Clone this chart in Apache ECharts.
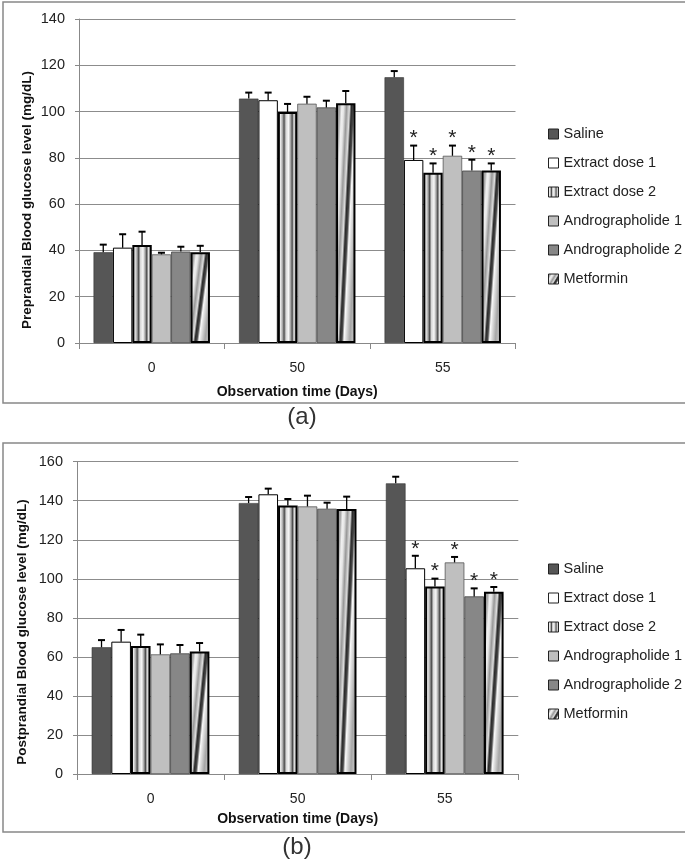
<!DOCTYPE html>
<html>
<head>
<meta charset="utf-8">
<script src="https://cdn.jsdelivr.net/npm/echarts@6/dist/echarts.min.js"></script>
<style>
html,body{margin:0;padding:0;background:#fff;}
#chart{width:685px;height:862px;}
</style>
</head>
<body>
<div id="chart"></div>
<script>
// ---------- DATA ----------
const categories = ['0', '50', '55'];
const seriesNames = ['Saline', 'Extract dose 1', 'Extract dose 2', 'Andrographolide 1', 'Andrographolide 2', 'Metformin'];

// (a) Preprandial blood glucose (mg/dL): means and upper error (SD)
const preSaline = [39.2, 105.6, 114.8];
const preSalineSD = [3.3, 2.6, 2.7];
const preExtract1 = [41.2, 104.9, 79.1];
const preExtract1SD = [5.8, 3.3, 6.2];
const preExtract2 = [42.3, 99.8, 73.6];
const preExtract2SD = [5.8, 3.5, 4.0];
const preAndro1 = [38.3, 103.4, 80.9];
const preAndro1SD = [0.7, 3.0, 4.4];
const preAndro2 = [39.5, 101.8, 74.5];
const preAndro2SD = [2.1, 2.9, 4.7];
const preMetformin = [39.2, 103.6, 74.5];
const preMetforminSD = [2.8, 5.3, 3.1];

// (b) Postprandial blood glucose (mg/dL)
const postSaline = [64.9, 138.8, 148.9];
const postSalineSD = [3.7, 3.1, 3.4];
const postExtract1 = [67.8, 143.3, 105.4];
const postExtract1SD = [6.0, 2.9, 6.4];
const postExtract2 = [65.6, 137.6, 96.0];
const postExtract2SD = [5.8, 3.3, 4.1];
const postAndro1 = [61.3, 137.1, 108.4];
const postAndro1SD = [5.1, 5.5, 2.8];
const postAndro2 = [61.8, 135.9, 91.0];
const postAndro2SD = [4.3, 3.1, 4.1];
const postMetformin = [62.7, 135.8, 93.4];
const postMetforminSD = [4.4, 6.3, 2.4];

// significance (*) marks at day 55, per series
const sigDay55 = [0, 1, 1, 1, 1, 1];

// ---------- STYLES ----------
const FONT = 'Liberation Sans';
const G = echarts.graphic;
const stripeStops = [
  {offset: 0, color: '#5a5a5a'}, {offset: 0.12, color: '#f2f2f2'}, {offset: 0.24, color: '#a8a8a8'},
  {offset: 0.32, color: '#4e4e4e'}, {offset: 0.42, color: '#d8d8d8'}, {offset: 0.55, color: '#f7f7f7'},
  {offset: 0.67, color: '#9a9a9a'}, {offset: 0.74, color: '#4a4a4a'}, {offset: 0.83, color: '#e2e2e2'},
  {offset: 0.93, color: '#9c9c9c'}, {offset: 1, color: '#5c5c5c'}
];
const metStops = [
  {offset: 0, color: '#959595'}, {offset: 0.125, color: '#a8a8a8'}, {offset: 0.19, color: '#f0f0f0'},
  {offset: 0.25, color: '#e6e6e6'}, {offset: 0.344, color: '#989898'}, {offset: 0.4375, color: '#dedede'},
  {offset: 0.5, color: '#2a2a2a'}, {offset: 0.5625, color: '#474747'}, {offset: 0.625, color: '#fafafa'},
  {offset: 0.6875, color: '#dcdcdc'}, {offset: 0.8125, color: '#a6a6a6'}, {offset: 0.9375, color: '#c8c8c8'},
  {offset: 1, color: '#999999'}
];
function stripeFill() { return new G.LinearGradient(0, 0, 1, 0, stripeStops); }
function metFill(t) { return new G.LinearGradient(-0.3, 0.5, 1.3, 0.5 + t, metStops); }

const baseStyles = [
  {color: '#565656', borderColor: '#333', borderWidth: 0.6},
  {color: '#ffffff', borderColor: '#000', borderWidth: 1},
  {color: stripeFill(), borderColor: '#000', borderWidth: 2},
  {color: '#bfbfbf', borderColor: '#555', borderWidth: 0.8},
  {color: '#878787', borderColor: '#444', borderWidth: 0.8},
  {color: metFill(0.96), borderColor: '#000', borderWidth: 2}
];

function buildSeries(means, sds, gi, pxPerUnit, barW) {
  const out = [];
  means.forEach((vals, s) => {
    const data = vals.map(v => {
      if (s === 5) {
        const h = Math.max(v * pxPerUnit, 1);
        return {value: v, itemStyle: {color: metFill(0.96 * barW * barW / (h * h))}};
      }
      return v;
    });
    out.push({
      name: seriesNames[s], type: 'bar', xAxisIndex: gi, yAxisIndex: gi,
      barGap: '0%', barCategoryGap: '20%', data: data,
      itemStyle: Object.assign({}, baseStyles[s]), emphasis: {disabled: true}, z: 2
    });
  });
  const errData = [];
  means.forEach((vals, s) => {
    vals.forEach((v, c) => {
      errData.push([c, v, sds[s][c], s, (c === 2 && sigDay55[s]) ? 1 : 0]);
    });
  });
  out.push({
    type: 'custom', name: 'err' + gi, xAxisIndex: gi, yAxisIndex: gi, z: 5,
    data: errData, encode: {x: 0, y: 1}, silent: true,
    renderItem: function (params, api) {
      const c = api.value(0), v = api.value(1), sd = api.value(2), s = api.value(3), sig = api.value(4);
      const catW = api.size([1, 0])[0];
      const bw = catW * 0.8 / 6;
      const cx = api.coord([c, 0])[0] - catW * 0.4 + bw * (s + 0.5);
      const yTop = api.coord([c, v])[1];
      const yErr = api.coord([c, v + sd])[1];
      const children = [
        {type: 'line', shape: {x1: cx, y1: yTop, x2: cx, y2: yErr}, style: {stroke: '#000', lineWidth: 1.3}},
        {type: 'line', shape: {x1: cx - 3.5, y1: yErr, x2: cx + 3.5, y2: yErr}, style: {stroke: '#000', lineWidth: 2}}
      ];
      if (sig) {
        children.push({type: 'text', style: {text: '*', x: cx, y: yErr - 7, textAlign: 'center', textVerticalAlign: 'middle',
          font: '21px "' + FONT + '"', fill: '#222'}});
      }
      return {type: 'group', children: children};
    }
  });
  return out;
}

const preMeans = [preSaline, preExtract1, preExtract2, preAndro1, preAndro2, preMetformin];
const preSDs = [preSalineSD, preExtract1SD, preExtract2SD, preAndro1SD, preAndro2SD, preMetforminSD];
const postMeans = [postSaline, postExtract1, postExtract2, postAndro1, postAndro2, postMetformin];
const postSDs = [postSalineSD, postExtract1SD, postExtract2SD, postAndro1SD, postAndro2SD, postMetforminSD];

function xAxisCfg(gi, gap) {
  return {
    type: 'category', gridIndex: gi, data: categories,
    axisLine: {lineStyle: {color: '#888', width: 1}},
    axisTick: {show: true, length: 6, lineStyle: {color: '#888'}},
    axisLabel: {margin: 18, fontSize: 14, color: '#222', fontFamily: FONT},
    name: 'Observation time (Days)', nameLocation: 'middle', nameGap: gap,
    nameTextStyle: {fontWeight: 'bold', fontSize: 14, color: '#111', fontFamily: FONT}
  };
}
function yAxisCfg(gi, max) {
  return {
    type: 'value', gridIndex: gi, min: 0, max: max, interval: 20,
    axisLine: {show: true, lineStyle: {color: '#888'}},
    axisTick: {show: true, length: 4, lineStyle: {color: '#888'}},
    splitLine: {lineStyle: {color: '#8c8c8c', width: 1}},
    axisLabel: {fontSize: 14.5, color: '#222', margin: 14, fontFamily: FONT}
  };
}
function legendCfg(top) {
  return {
    data: seriesNames, orient: 'vertical', left: 543, top: top,
    itemWidth: 10, itemHeight: 10, itemGap: 13, icon: 'rect', selectedMode: false,
    itemStyle: {borderColor: '#222', borderWidth: 1},
    textStyle: {fontSize: 14.5, color: '#222', fontFamily: FONT, lineHeight: 16}
  };
}

const option = {
  animation: false,
  backgroundColor: '#fff',
  grid: [
    {left: 79, top: 19, width: 436.5, height: 324},
    {left: 77, top: 461.7, width: 441.3, height: 312.3}
  ],
  xAxis: [xAxisCfg(0, 42), xAxisCfg(1, 38)],
  yAxis: [yAxisCfg(0, 140), yAxisCfg(1, 160)],
  legend: [legendCfg(121), legendCfg(556)],
  graphic: [
    {type: 'rect', shape: {x: 3, y: 2, width: 720, height: 401}, style: {fill: 'none', stroke: '#888', lineWidth: 1.5}, silent: true},
    {type: 'rect', shape: {x: 3, y: 443, width: 720, height: 389}, style: {fill: 'none', stroke: '#888', lineWidth: 1.5}, silent: true},
    {type: 'text', x: 27, y: 200, rotation: Math.PI / 2,
      style: {text: 'Preprandial Blood glucose level (mg/dL)', textAlign: 'center', textVerticalAlign: 'middle',
        font: 'bold 13.5px "' + FONT + '"', fill: '#111'}},
    {type: 'text', x: 22, y: 632, rotation: Math.PI / 2,
      style: {text: 'Postprandial Blood glucose level (mg/dL)', textAlign: 'center', textVerticalAlign: 'middle',
        font: 'bold 13.5px "' + FONT + '"', fill: '#111'}},
    {type: 'text', x: 302, y: 417, style: {text: '(a)', textAlign: 'center', textVerticalAlign: 'middle',
      font: '24px "' + FONT + '"', fill: '#333'}},
    {type: 'text', x: 297, y: 847, style: {text: '(b)', textAlign: 'center', textVerticalAlign: 'middle',
      font: '24px "' + FONT + '"', fill: '#333'}}
  ],
  series: [].concat(
    buildSeries(preMeans, preSDs, 0, 2.314, 19.4),
    buildSeries(postMeans, postSDs, 1, 1.952, 19.6)
  )
};

const chart = echarts.init(document.getElementById('chart'), null, {renderer: 'canvas'});
chart.setOption(option);
</script>
</body>
</html>
